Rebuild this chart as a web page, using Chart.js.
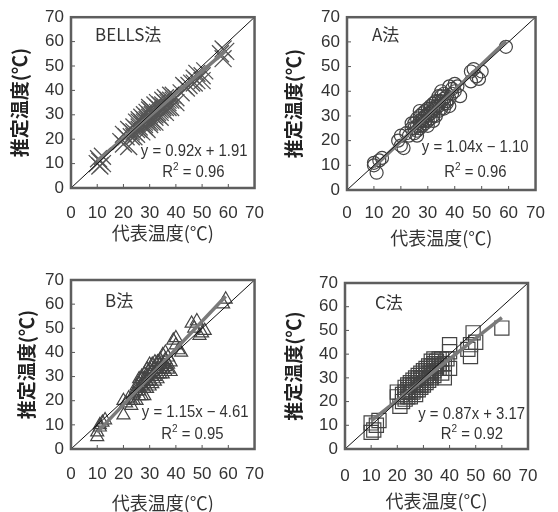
<!DOCTYPE html>
<html>
<head>
<meta charset="utf-8">
<script src="https://cdn.jsdelivr.net/npm/chart.js@4.4.0/dist/chart.umd.min.js"></script>
<style>
  body { margin: 0; background: #fff; width: 558px; height: 512px; position: relative; overflow: hidden; }
  canvas { position: absolute; }
</style>
</head>
<body>
<canvas id="c0" width="279" height="256" style="left:0;top:0"></canvas>
<canvas id="c1" width="279" height="256" style="left:279px;top:0"></canvas>
<canvas id="c2" width="279" height="256" style="left:0;top:256px"></canvas>
<canvas id="c3" width="279" height="256" style="left:279px;top:256px"></canvas>
<script>
// data
const methodNames = ['BELLS法', 'A法', 'B法', 'C法'];
const axisTicks = [0, 10, 20, 30, 40, 50, 60, 70];

const bellsX = [10, 10.5, 11, 12, 12, 11, 19, 20, 21, 20, 22, 23, 24, 24, 25, 25, 26, 26, 27, 27, 28, 28, 28, 29, 29, 30, 30, 30, 31, 31, 32, 32, 32, 33, 33, 34, 34, 35, 35, 36, 36, 37, 38, 38, 39, 40, 40, 42, 44, 46, 47, 48, 48, 50, 50, 51, 57, 58, 59, 58,
  24, 25, 26, 26, 27, 27, 28, 28, 29, 29, 30, 30, 31, 31, 32, 32, 33, 33, 34, 34, 35, 35, 36, 36, 37, 37, 38, 39, 30, 31, 29, 23, 22, 43, 45, 47];
const bellsY = [10, 12, 11, 13, 10, 9, 19, 18, 21, 22, 17, 23, 25, 21, 24, 27, 25, 28, 26, 23, 27, 30, 25, 28, 31, 29, 26, 32, 30, 28, 31, 34, 27, 30, 33, 32, 29, 34, 36, 33, 31, 35, 36, 33, 38, 37, 35, 39, 41, 43, 45, 44, 47, 44, 46, 48, 55, 57, 56, 53,
  23, 22, 24, 27, 29, 27, 28, 26, 27, 29, 30, 27, 32, 31, 30, 29, 31, 35, 34, 31, 32, 33, 35, 37, 33, 36, 38, 36, 33, 27, 24, 21, 24, 42, 42, 43];

const aX = [10, 12, 11, 10, 13, 20, 20, 21, 19, 22, 24, 25, 25, 26, 26, 27, 27, 28, 28, 29, 29, 30, 30, 31, 31, 32, 32, 33, 33, 34, 34, 35, 35, 36, 37, 38, 38, 39, 40, 40, 41, 42, 46, 47, 48, 49, 50, 46, 59,
  24, 25, 26, 26, 27, 27, 28, 28, 29, 29, 30, 30, 30, 31, 31, 32, 32, 33, 33, 34, 34, 35, 35, 36, 36, 37, 37, 38, 39, 32, 23, 27, 36];
const aY = [11, 12, 7, 10, 13, 22, 18, 17, 20, 23, 25, 27, 23, 22, 29, 28, 25, 31, 26, 30, 27, 31, 28, 33, 29, 32, 35, 30, 36, 34, 38, 40, 33, 37, 35, 34, 42, 39, 43, 40, 42, 38, 48, 49, 46, 45, 48, 44, 58,
  27, 25, 26, 24, 30, 26, 28, 29, 28, 32, 30, 33, 26, 31, 34, 30, 33, 33, 34, 32, 36, 36, 38, 35, 39, 38, 36, 37, 41, 28, 22, 32, 33];

const bX = [10, 10, 11, 12, 13, 11, 20, 20, 21, 22, 23, 24, 25, 25, 26, 26, 27, 27, 28, 28, 29, 29, 30, 30, 31, 31, 32, 32, 33, 33, 34, 34, 35, 35, 36, 36, 37, 38, 38, 39, 40, 41, 42, 40, 46, 47, 48, 49, 50, 51, 58, 59,
  24, 25, 26, 26, 27, 27, 28, 28, 29, 29, 30, 30, 31, 31, 32, 32, 33, 33, 34, 34, 35, 35, 36, 36, 37, 37, 26, 28, 23, 30];
const bY = [5, 7, 9, 11, 12, 10, 14, 20, 19, 21, 18, 23, 26, 20, 27, 24, 29, 22, 31, 27, 30, 25, 33, 28, 32, 27, 34, 30, 36, 31, 35, 33, 39, 31, 37, 34, 38, 32, 36, 45, 43, 41, 40, 46, 52, 50, 53, 47, 48, 49, 60, 62,
  20, 24, 29, 22, 26, 30, 25, 29, 28, 33, 31, 26, 30, 35, 28, 36, 33, 29, 31, 37, 35, 33, 32, 40, 35, 33, 25, 22, 20, 35];

const cX = [10, 11, 12, 10, 13, 20, 21, 20, 22, 23, 23, 24, 24, 25, 25, 26, 26, 27, 27, 28, 28, 29, 29, 30, 30, 31, 31, 32, 32, 33, 33, 34, 34, 35, 35, 36, 37, 37, 38, 38, 40, 40, 40, 39, 47, 48, 49, 50, 48, 60,
  22, 23, 23, 24, 24, 24, 25, 25, 25, 26, 26, 27, 27, 27, 28, 28, 28, 29, 29, 29, 30, 30, 30, 31, 31, 31, 32, 32, 32, 33, 33, 33, 34, 34, 35, 35, 36, 36, 37, 34];
const cY = [11, 8, 10, 7, 12, 22, 18, 24, 20, 23, 26, 25, 22, 27, 24, 26, 29, 28, 25, 30, 27, 29, 32, 31, 28, 33, 30, 34, 31, 35, 32, 36, 33, 37, 34, 36, 38, 32, 36, 30, 44, 41, 34, 38, 42, 39, 49, 45, 44, 51,
  23, 24, 21, 27, 24, 26, 25, 22, 28, 24, 27, 27, 30, 23, 28, 25, 31, 27, 30, 26, 30, 33, 27, 31, 28, 34, 32, 29, 35, 33, 30, 37, 35, 31, 35, 36, 34, 38, 36, 38];

const slopes = [0.92, 1.04, 1.15, 0.87];
const intercepts = [1.91, -1.10, -4.61, 3.17];
const r2s = [0.96, 0.96, 0.95, 0.92];
const fitRanges = [[10, 59], [10, 59], [10, 59], [10, 60]];

const xs = [bellsX, aX, bX, cX];
const ys = [bellsY, aY, bY, cY];

// look of each panel
const markers = [
  { style: 'crossRot', radius: 12, color: '#555', width: 1.3 },
  { style: 'circle', radius: 6.5, color: '#444', width: 1.2 },
  { style: 'triangle', radius: 7.5, color: '#444', width: 1.2 },
  { style: 'rect', radius: 10, color: '#444', width: 1.2 }
];
// plot rectangle inside each 279x256 canvas, plus text offsets
const boxes = [
  { l: 71, t: 13, r: 267, b: 188, xTick: 15, xTitle: 14, yTitle: 8.5, name: [24, 17], eq: [7, 36], r2: [30, 15] },
  { l: 68, t: 13, r: 258, b: 190, xTick: 13, xTitle: 9, yTitle: 3.5, name: [25, 17], eq: [7, 42], r2: [29, 17] },
  { l: 71, t: 24, r: 266, b: 193, xTick: 15, xTitle: 0, yTitle: 15.5, name: [34, 21], eq: [6, 36], r2: [31, 14] },
  { l: 66, t: 27, r: 249, b: 193, xTick: 17, xTitle: 2, yTitle: 3.5, name: [30, 20], eq: [3, 34], r2: [25, 14] }
];

const NUM_FONT = '"Liberation Sans", Arial, sans-serif';
const JP_FONT = '"Noto Sans CJK JP", "Noto Sans", sans-serif';

// draws text squeezed horizontally, right or left anchored
function squeezed(ctx, txt, x, y, k, align) {
  const w = ctx.measureText(txt).width * k;
  ctx.save();
  ctx.translate(align === 'right' ? x - w : x, y);
  ctx.scale(k, 1);
  ctx.textAlign = 'left';
  ctx.fillText(txt, 0, 0);
  ctx.restore();
  return w;
}

const decor = {
  id: 'decor',
  afterDatasetsDraw(chart, args, opts) {
    const { ctx, chartArea: a, scales: { x, y } } = chart;
    const i = opts.idx, bx = boxes[i];
    ctx.save();
    // inward tick marks
    ctx.strokeStyle = '#555';
    ctx.lineWidth = 1;
    axisTicks.slice(1, -1).forEach(v => {
      const px = x.getPixelForValue(v), py = y.getPixelForValue(v);
      ctx.beginPath();
      ctx.moveTo(px, a.bottom); ctx.lineTo(px, a.bottom - 4);
      ctx.moveTo(a.left, py); ctx.lineTo(a.left + 4, py);
      ctx.stroke();
    });
    // frame
    ctx.strokeStyle = '#5e5e5e';
    ctx.lineWidth = 2.5;
    ctx.strokeRect(a.left, a.top, a.right - a.left, a.bottom - a.top);

    ctx.fillStyle = '#333';
    ctx.textBaseline = 'middle';
    // method name
    ctx.font = '17px ' + JP_FONT;
    squeezed(ctx, methodNames[i], a.left + bx.name[0], a.top + bx.name[1], 1, 'left');
    // equation
    const k = 0.93;
    const s = slopes[i], c = intercepts[i];
    const eq = 'y = ' + s.toFixed(2) + 'x ' + (c < 0 ? '\u2212 ' : '+ ') + Math.abs(c).toFixed(2);
    ctx.font = '16px ' + NUM_FONT;
    squeezed(ctx, eq, a.right - bx.eq[0], a.bottom - bx.eq[1], k, 'right');
    // R squared with superscript
    const rest = ' = ' + r2s[i].toFixed(2);
    const wR = ctx.measureText('R').width * k, wRest = ctx.measureText(rest).width * k;
    ctx.font = '10px ' + NUM_FONT;
    const w2 = ctx.measureText('2').width;
    const ry = a.bottom - bx.r2[1];
    const sx = a.right - bx.r2[0] - (wR + w2 + wRest);
    ctx.textAlign = 'left';
    ctx.fillText('2', sx + wR, ry - 6);
    ctx.font = '16px ' + NUM_FONT;
    squeezed(ctx, 'R', sx, ry, k, 'left');
    squeezed(ctx, rest, sx + wR + w2, ry, k, 'left');
    ctx.restore();
  }
};

function makeChart(i) {
  const bx = boxes[i], m = markers[i];
  const W = 279, H = 256;
  const pts = xs[i].map((v, k) => ({ x: v, y: ys[i][k] }));
  const [x0, x1] = fitRanges[i];
  const fit = [x0, x1].map(v => ({ x: v, y: slopes[i] * v + intercepts[i] }));
  const ctx = document.getElementById('c' + i).getContext('2d');
  return new Chart(ctx, {
    type: 'scatter',
    data: {
      datasets: [
        {
          type: 'line',
          data: [{ x: 0, y: 0 }, { x: 70, y: 70 }],
          borderColor: '#111',
          borderWidth: 1,
          pointRadius: 0,
          order: 0
        },
        {
          type: 'line',
          data: fit,
          borderColor: '#7a7a7a',
          borderWidth: 3.5,
          pointRadius: 0,
          order: 1
        },
        {
          data: pts,
          pointStyle: m.style,
          pointRadius: m.radius,
          borderColor: m.color,
          borderWidth: m.width,
          backgroundColor: 'rgba(0,0,0,0)',
          order: 2
        }
      ]
    },
    options: {
      responsive: false,
      animation: false,
      layout: { padding: { left: 0, top: bx.t, right: W - bx.r, bottom: 0 } },
      scales: {
        x: {
          type: 'linear', min: 0, max: 70,
          afterBuildTicks: s => { s.ticks = axisTicks.map(v => ({ value: v })); },
          afterFit: s => { s.height = H - bx.b; },
          grid: { display: false, drawTicks: false },
          border: { display: false },
          ticks: { padding: bx.xTick, color: '#333', font: { family: NUM_FONT, size: 17 } },
          title: {
            display: true, text: '代表温度(℃)', color: '#333',
            font: { family: JP_FONT, size: 18, lineHeight: 1 },
            padding: { top: 0, bottom: bx.xTitle }
          }
        },
        y: {
          type: 'linear', min: 0, max: 70,
          afterBuildTicks: s => { s.ticks = axisTicks.map(v => ({ value: v })); },
          afterFit: s => { s.width = bx.l; },
          grid: { display: false, drawTicks: false },
          border: { display: false },
          ticks: { padding: 7, color: '#333', font: { family: NUM_FONT, size: 17 } },
          title: {
            display: true, text: '推定温度(℃)', color: '#222',
            font: { family: JP_FONT, size: 19, weight: 'bold' },
            padding: { top: bx.yTitle, bottom: 0 }
          }
        }
      },
      plugins: {
        legend: { display: false },
        tooltip: { enabled: false },
        decor: { idx: i }
      }
    },
    plugins: [decor]
  });
}

[0, 1, 2, 3].forEach(makeChart);
</script>
</body>
</html>
